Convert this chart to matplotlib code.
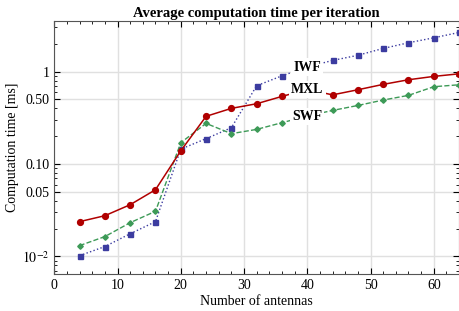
import matplotlib
matplotlib.use('Agg')
import matplotlib.pyplot as plt
import matplotlib.ticker as mticker
import numpy as np

# 数据
antennas = [4, 8, 12, 16, 20, 24, 28, 32, 36, 40, 44, 48, 52, 56, 60, 64]
mxl = [0.0238, 0.0276, 0.0363, 0.0527, 0.139, 0.328, 0.40, 0.449, 0.539, 0.64,
       0.56, 0.636, 0.727, 0.816, 0.887, 0.946]
iwf = [0.0102, 0.0128, 0.0176, 0.0238, 0.145, 0.188, 0.247, 0.703, 0.90, 1.12,
       1.32, 1.50, 1.78, 2.05, 2.32, 2.65]
swf = [0.0131, 0.0164, 0.0232, 0.0308, 0.170, 0.275, 0.213, 0.237, 0.28, 0.33,
       0.38, 0.43, 0.492, 0.553, 0.686, 0.72]

plt.rcParams['font.family'] = ['Liberation Serif', 'DejaVu Serif']
plt.rcParams['mathtext.fontset'] = 'stix'

fig = plt.figure(figsize=(4.6, 3.11), dpi=100)
ax = fig.add_axes([0.118, 0.119, 0.880, 0.814])

ax.plot(antennas, iwf, color='#3c3ca0', ls=':', lw=1.0, marker='s', ms=3.6, zorder=3)
ax.plot(antennas, swf, color='#3d9a57', ls='--', lw=1.0, marker='D', ms=2.8, zorder=3)
ax.plot(antennas, mxl, color='#b00000', ls='-', lw=1.1, marker='o', ms=4.2, zorder=3)

# 曲线标签
for name, y in [('IWF', 1.12), ('MXL', 0.64), ('SWF', 0.33)]:
    ax.text(40, y, name, fontsize=10, fontweight='bold', ha='center', va='center',
            bbox=dict(facecolor='white', edgecolor='none', pad=1.5), zorder=4)

ax.set_yscale('log')
ax.set_xlim(0, 64)
ax.set_ylim(0.00646, 3.54)

ax.set_xticks([0, 10, 20, 30, 40, 50, 60])
ax.xaxis.set_minor_locator(mticker.MultipleLocator(2))
ax.set_yticks([0.01, 0.05, 0.1, 0.5, 1])
ax.set_yticklabels([r'$10^{-2}$', '0.05', '0.10', '0.50', '1'])
ax.yaxis.set_minor_locator(mticker.LogLocator(base=10, subs=np.arange(2, 10)))
ax.yaxis.set_minor_formatter(mticker.NullFormatter())

ax.tick_params(which='both', direction='in', top=True, right=True, labelsize=10)
ax.tick_params(which='major', length=4, width=0.8)
ax.tick_params(which='minor', length=2, width=0.6)
ax.grid(True, which='major', color='#e0e0e0', lw=1.0, zorder=0)
for s in ax.spines.values():
    s.set_color('#555555')
    s.set_linewidth(0.8)

ax.set_title('Average computation time per iteration', fontsize=10.5, fontweight='bold', pad=3)
ax.set_xlabel('Number of antennas', fontsize=10, labelpad=2)
ax.set_ylabel('Computation time [ms]', fontsize=10, labelpad=2)

fig.savefig('out.png', dpi=100)
